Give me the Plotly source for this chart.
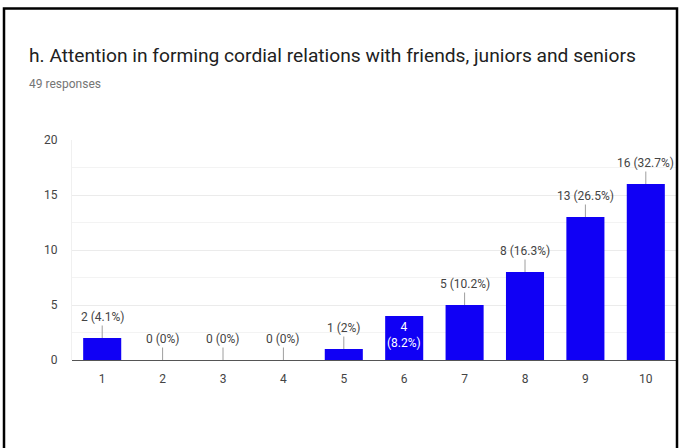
import plotly.graph_objects as go

# Survey: rating scale 1-10, number of responses per rating
ratings = [1, 2, 3, 4, 5, 6, 7, 8, 9, 10]
counts = [2, 0, 0, 0, 1, 4, 5, 8, 13, 16]
percent_labels = ["4.1%", "0%", "0%", "0%", "2%", "8.2%", "10.2%", "16.3%", "26.5%", "32.7%"]
y_ticks = [0, 5, 10, 15, 20]

title_text = "h. Attention in forming cordial relations with friends, juniors and seniors"
subtitle_text = "49 responses"

W, H = 683, 448
L, R, T, B = 72, 7, 140, 88
plot_w = W - L - R
plot_h = H - T - B

bar_color = "#1000f5"
label_color = "#444444"
font_family = "Roboto, Arial, sans-serif"


def px_x(px):
    return (px - L) / plot_w


def px_y(py):
    return 1 - (py - T) / plot_h


fig = go.Figure()
fig.add_trace(go.Bar(
    x=ratings,
    y=counts,
    marker=dict(color=bar_color, line=dict(width=0)),
    hoverinfo="skip",
))

annotations = []
for r, c, p in zip(ratings, counts, percent_labels):
    if r == 6:
        # this label sits inside its bar in white
        annotations.append(dict(
            x=r, y=c, xref="x", yref="y",
            text=f"{c}<br>({p})", showarrow=False,
            yanchor="top", yshift=-2,
            font=dict(family=font_family, size=12, color="white"),
        ))
    else:
        annotations.append(dict(
            x=r, y=c, xref="x", yref="y",
            text=f"{c} ({p})", showarrow=True,
            arrowhead=0, arrowwidth=1, arrowcolor="#9e9e9e",
            ax=0, ay=-21, standoff=0,
            font=dict(family=font_family, size=12, color=label_color),
        ))

annotations.append(dict(
    x=px_x(27), y=px_y(55), xref="paper", yref="paper",
    xanchor="left", yanchor="middle", showarrow=False,
    text=title_text,
    font=dict(family=font_family, size=19.2, color="#212121"),
))
annotations.append(dict(
    x=px_x(27), y=px_y(84), xref="paper", yref="paper",
    xanchor="left", yanchor="middle", showarrow=False,
    text=subtitle_text,
    font=dict(family=font_family, size=12, color="#757575"),
))

fig.update_layout(
    width=W, height=H,
    margin=dict(l=L, r=R, t=T, b=B, pad=0),
    paper_bgcolor="white",
    plot_bgcolor="white",
    showlegend=False,
    bargap=0.37,
    annotations=annotations,
    shapes=[dict(
        type="path", xref="paper", yref="paper",
        path=f"M {px_x(4)} {px_y(470)} L {px_x(4)} {px_y(8.5)} "
             f"L {px_x(677)} {px_y(8.5)} L {px_x(677)} {px_y(470)}",
        line=dict(color="black", width=2.5),
        layer="above",
    )],
)

fig.update_xaxes(
    range=[0.5, 10.5],
    tickmode="array", tickvals=ratings, ticktext=[str(r) for r in ratings],
    showgrid=False, zeroline=False, showline=False,
    ticks="", ticklabelstandoff=10,
    tickfont=dict(family=font_family, size=12, color=label_color),
    fixedrange=True,
)
fig.update_yaxes(
    range=[0, 20],
    tickmode="array", tickvals=y_ticks,
    showgrid=True, gridcolor="#ebebeb", gridwidth=1,
    minor=dict(dtick=2.5, showgrid=True, gridcolor="#f3f3f3", gridwidth=1),
    zeroline=True, zerolinecolor="#555555", zerolinewidth=1,
    showline=True, linecolor="#f0f0f0", linewidth=1,
    ticks="", ticklabelstandoff=11,
    tickfont=dict(family=font_family, size=12, color=label_color),
    fixedrange=True,
)

fig.write_html("out.html", config={"displayModeBar": False})
